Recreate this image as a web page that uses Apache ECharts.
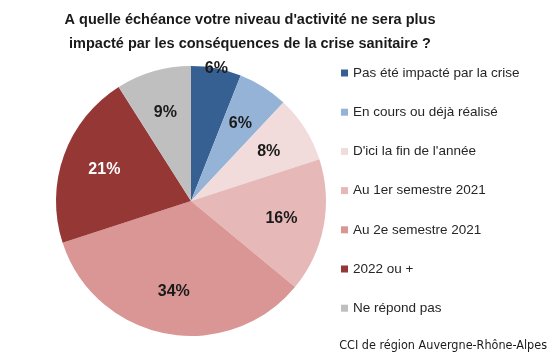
<!DOCTYPE html>
<html><head><meta charset="utf-8">
<script src="https://cdn.jsdelivr.net/npm/echarts@6/dist/echarts.min.js"></script>
<style>html,body{margin:0;padding:0;background:#fff}#c{width:553px;height:359px}</style>
</head><body><div id="c"></div>
<script>
const categories = ["Pas été impacté par la crise","En cours ou déjà réalisé","D'ici la fin de l'année","Au 1er semestre 2021","Au 2e semestre 2021","2022 ou +","Ne répond pas"];
const values = [6, 6, 8, 16, 34, 21, 9];
const colors = ["#376092","#95B3D7","#F2DCDB","#E6B9B8","#D99694","#953735","#BFBFBF"];
const labelColors = ["#1a1a1a","#1a1a1a","#1a1a1a","#1a1a1a","#1a1a1a","#ffffff","#1a1a1a"];

const chart = echarts.init(document.getElementById('c'), null, {renderer:'canvas'});
const center = [191, 201];
const R = 135;
chart.setOption({
  animation: false,
  title: {
    text: "A quelle échéance votre niveau d'activité ne sera plus\nimpacté par les conséquences de la crise sanitaire ?",
    left: 245, top: 3, textAlign: 'center',
    textStyle: {fontFamily: 'Liberation Sans', fontWeight: 'bold', fontSize: 14.5, lineHeight: 24, color: '#1a1a1a'}
  },
  graphic: [{
    type: 'text', right: 6, top: 339,
    style: {text: 'CCI de région Auvergne-Rhône-Alpes', font: '12.5px "Liberation Sans Narrow", "DejaVu Sans Condensed", sans-serif', fill: '#1a1a1a'}
  }],
  legend: {
    orient: 'vertical', left: 341, top: 65, padding: 0,
    itemWidth: 7, itemHeight: 7, itemGap: 23.2,
    icon: 'rect',
    data: categories,
    textStyle: {fontFamily: 'Liberation Sans', fontSize: 13.5, lineHeight: 16, color: '#262626'}
  },
  series: [{
    type: 'pie', center: center, radius: R,
    startAngle: 90, clockwise: true,
    label: {show: false}, labelLine: {show: false},
    emphasis: {disabled: true},
    data: categories.map((n, i) => ({name: n, value: values[i], itemStyle: {color: colors[i]}}))
  }, {
    type: 'pie', center: center, radius: [R * 0.32, R],
    startAngle: 90, clockwise: true, silent: true,
    legendHoverLink: false,
    itemStyle: {color: 'rgba(0,0,0,0)'},
    emphasis: {disabled: true},
    labelLine: {show: false},
    label: {show: true, position: 'inside', formatter: '{c}%', fontFamily: 'Liberation Sans', fontWeight: 'bold', fontSize: 16},
    labelLayout: function (p) {
      return p.dataIndex === 0 ? {align: 'center', verticalAlign: 'middle'} : {};
    },
    data: categories.map((n, i) => ({
      name: n, value: values[i],
      label: i === 0 ? {position: 'outside', color: labelColors[i], distanceToLabelLine: 0} : {color: labelColors[i]},
      labelLine: i === 0 ? {show: false, length: 0, length2: 0} : {show: false}
    }))
  }]
});
</script></body></html>
